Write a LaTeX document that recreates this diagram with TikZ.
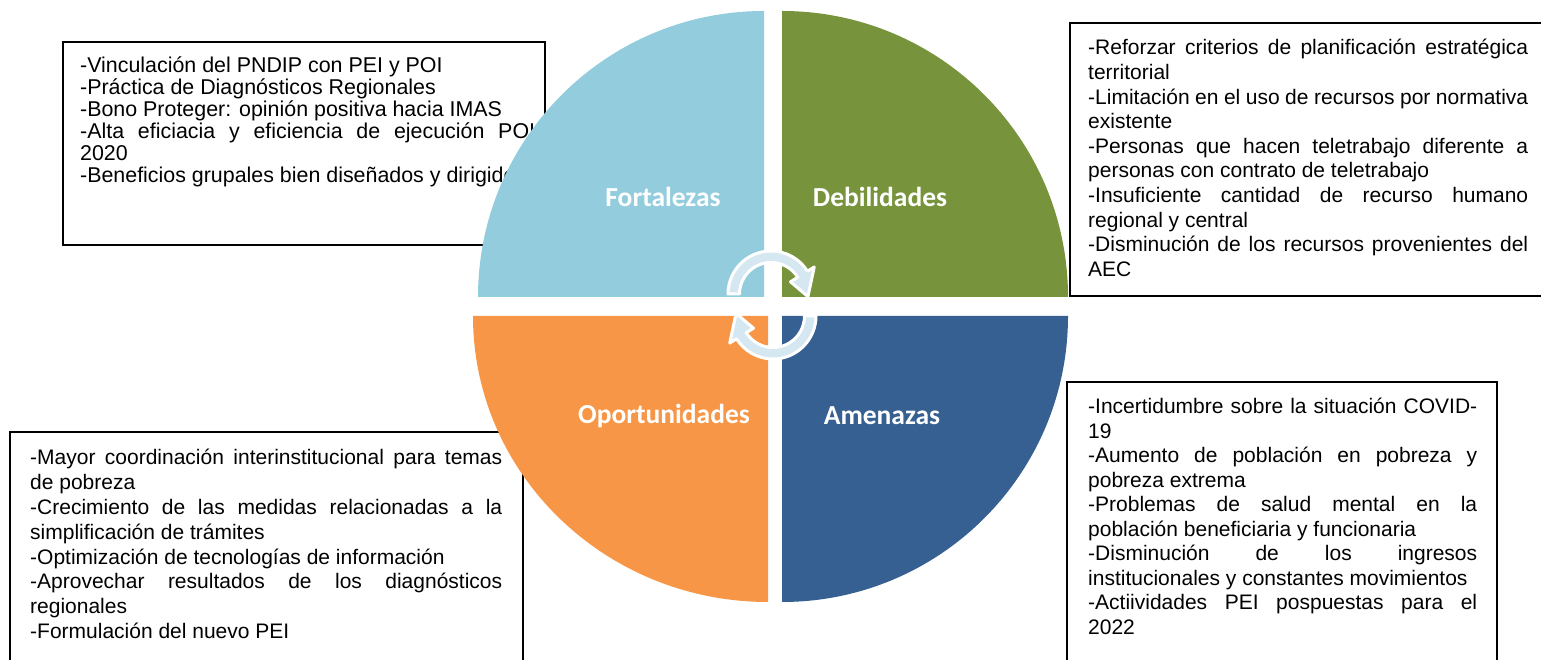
\documentclass[tikz,border=0pt]{standalone}
\usepackage{fontspec}
\setmainfont{Liberation Sans}
\newfontfamily\lblfont{Carlito}
\definecolor{cFort}{RGB}{147,205,221}
\definecolor{cDeb}{RGB}{119,147,60}
\definecolor{cOpo}{RGB}{247,150,70}
\definecolor{cAme}{RGB}{55,96,146}
\definecolor{cArr}{RGB}{213,231,240}
\newcommand{\jline}[1]{\makebox[\linewidth][s]{#1}\par}
\newcommand{\pline}[1]{#1\par}
\tikzset{
  txtbox/.style={draw=black, line width=1.6pt},
  lbl/.style={text=white, font=\lblfont\bfseries\fontsize{27.5}{30}\selectfont, inner sep=0pt},
  listtxt/.style={anchor=base west, inner sep=0pt},
  cyc/.style={fill=cArr, draw=white, line width=3pt, line join=round}
}
\begin{document}
\begin{tikzpicture}[x=1pt,y=1pt]
\useasboundingbox (0,0) rectangle (1541,660);
% text boxes
\draw[txtbox] (63,618) rectangle (545,415);
\draw[txtbox] (1560,637) -- (1070,637) -- (1070,364) -- (1560,364);
\draw[txtbox] (10,-20) -- (10,228) -- (523,228) -- (523,-20);
\draw[txtbox] (1067,-20) -- (1067,278) -- (1497,278) -- (1497,-20);
% texts
\node[listtxt] (tfort) at (80,587) {\parbox[t]{455pt}{\fontsize{21.4}{22}\selectfont
\pline{-Vinculación del PNDIP con PEI y POI}
\pline{-Práctica de Diagnósticos Regionales}
\pline{-Bono Proteger: opinión positiva hacia IMAS}
\jline{-Alta eficiacia y eficiencia de ejecución POI}
\pline{2020}
\pline{-Beneficios grupales bien diseñados y dirigidos}}};
\node[listtxt] (tdeb) at (1088,605) {\parbox[t]{440pt}{\fontsize{21}{24.6}\selectfont
\jline{-Reforzar criterios de planificación estratégica}
\pline{territorial}
\jline{-Limitación en el uso de recursos por normativa}
\pline{existente}
\jline{-Personas que hacen teletrabajo diferente a}
\pline{personas con contrato de teletrabajo}
\jline{-Insuficiente cantidad de recurso humano}
\pline{regional y central}
\jline{-Disminución de los recursos provenientes del}
\pline{AEC}}};
\node[listtxt] (topo) at (30,195) {\parbox[t]{472pt}{\fontsize{21}{24.8}\selectfont
\jline{-Mayor coordinación interinstitucional para temas}
\pline{de pobreza}
\jline{-Crecimiento de las medidas relacionadas a la}
\pline{simplificación de trámites}
\pline{-Optimización de tecnologías de información}
\jline{-Aprovechar resultados de los diagnósticos}
\pline{regionales}
\pline{-Formulación del nuevo PEI}}};
\node[listtxt] (tame) at (1088,246) {\parbox[t]{389pt}{\fontsize{21}{24.5}\selectfont
\jline{-Incertidumbre sobre la situación COVID-}
\pline{19}
\jline{-Aumento de población en pobreza y}
\pline{pobreza extrema}
\jline{-Problemas de salud mental en la}
\pline{población beneficiaria y funcionaria}
\jline{-Disminución de los ingresos}
\pline{institucionales y constantes movimientos}
\jline{-Actiividades PEI pospuestas para el}
\pline{2022}}};
% quadrants
\fill[cFort] (764,363) -- (478,363) arc[start angle=180,end angle=90,radius=286] -- cycle;
\fill[cDeb] (782,363) -- (782,649) arc[start angle=90,end angle=0,radius=286] -- cycle;
\fill[cOpo] (768,344) -- (473,344) arc[start angle=180,end angle=270,x radius=295,y radius=286] -- cycle;
\fill[cAme] (782,344) -- (1068,344) arc[start angle=0,end angle=-90,radius=286] -- cycle;
% labels
\node[lbl] (lfort) at (663,463) {Fortalezas};
\node[lbl] (ldeb) at (880,463) {Debilidades};
\node[lbl] (lopo) at (664,244) {Oportunidades};
\node[lbl] (lame) at (882,244) {Amenazas};
% cycle arrows
\begin{scope}[shift={(771,366)}]
\path[cyc] (180:43) arc[start angle=180,end angle=32,radius=43] -- (32:51) -- (-4:37) -- (32:23) -- (32:31.5) arc[start angle=32,end angle=180,radius=31.5] -- cycle;
\end{scope}
\begin{scope}[shift={(773,344)},rotate=180]
\path[cyc] (180:43) arc[start angle=180,end angle=32,radius=43] -- (32:51) -- (-4:37) -- (32:23) -- (32:31.5) arc[start angle=32,end angle=180,radius=31.5] -- cycle;
\end{scope}
\end{tikzpicture}
\end{document}
